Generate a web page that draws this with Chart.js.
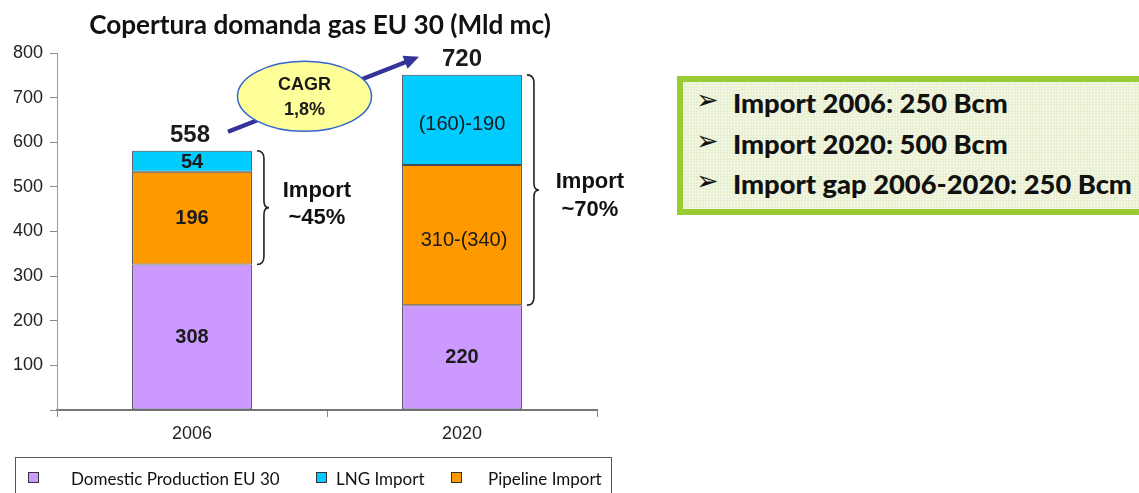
<!DOCTYPE html>
<html><head><meta charset="utf-8">
<script src="https://cdn.jsdelivr.net/npm/chart.js@4.4.1/dist/chart.umd.min.js"></script>
<style>
html,body{margin:0;padding:0;background:#fff;width:1139px;height:493px;overflow:hidden;position:relative;font-family:"Liberation Sans",Arial,sans-serif}
#wrap{position:absolute;left:0;top:0;width:640px;height:493px}
#title{position:absolute;left:0;width:640px;top:8px;text-align:center;font-family:Lato,"Open Sans",sans-serif;font-weight:bold;color:#111;white-space:nowrap}
#legend{position:absolute;left:15px;top:457px;width:597px;height:44px;border:1px solid #555;box-sizing:border-box;font-family:Lato,"Open Sans",sans-serif;font-size:17px;color:#111}
.li{position:absolute;top:10px;white-space:nowrap}
.sq{position:absolute;top:14px;width:9px;height:9px;border:1px solid #333}
#box{position:absolute;left:677px;top:76px;width:520px;height:139px;box-sizing:border-box;border:6px solid #99CC33;background:#E8EFCF;
background-image:linear-gradient(rgba(255,255,255,.35) 1px,transparent 1px),linear-gradient(90deg,rgba(255,255,255,.35) 1px,transparent 1px);background-size:3px 3px}
.bl{position:absolute;left:50px;font-family:Lato,"Open Sans",sans-serif;font-weight:900;color:#111;white-space:nowrap}
.ar{position:absolute;left:13px;font-size:27px;line-height:30px;color:#111;font-family:"DejaVu Sans",sans-serif}
</style></head><body>
<div id="wrap"><canvas id="c" width="640" height="493"></canvas></div>
<div id="title"></div>
<div id="legend"></div>
<div id="box"></div>
<script>
// ---- data ----
const categories = ['2006', '2020'];
const domesticValues = [326, 235];
const pipelineValues = [208, 314];
const lngValues = [47, 202];
const domesticLabels = ['308', '220'];
const pipelineLabels = ['196', '310-(340)'];
const lngLabels = ['54', '(160)-190'];
const totalLabels = ['558', '720'];
const importLabels = [['Import', '~45%'], ['Import', '~70%']];
const cagrLabel = ['CAGR', '1,8%'];
const yTicks = [0, 100, 200, 300, 400, 500, 600, 700, 800];
const seriesNames = ['Domestic Production EU 30', 'LNG Import', 'Pipeline Import'];
const chartTitle = 'Copertura domanda gas EU 30 (Mld mc)';
const boxLines = ['Import 2006: 250 Bcm', 'Import 2020: 500 Bcm', 'Import gap 2006-2020: 250 Bcm'];

const COL = {dom:'#CC99FF', pipe:'#FF9900', lng:'#00CCFF'};
const AR = '"Liberation Sans", Arial, sans-serif';

// ---- HTML texts ----
function fit(el, txt, family, weight, width){
  const cv=document.createElement('canvas').getContext('2d');
  cv.font = weight+' 100px '+family;
  const w=cv.measureText(txt).width;
  el.style.fontSize=(100*width/w).toFixed(2)+'px';
  el.textContent=txt;
}
fit(document.getElementById('title'), chartTitle, 'Lato', 'bold', 462);
const leg=document.getElementById('legend');
const legItems=[{c:COL.dom,sx:12,tx:55},{c:COL.lng,sx:300,tx:320},{c:COL.pipe,sx:435,tx:472}];
seriesNames.forEach((n,i)=>{
  const s=document.createElement('div');s.className='sq';s.style.left=legItems[i].sx+'px';s.style.background=legItems[i].c;leg.appendChild(s);
  const t=document.createElement('div');t.className='li';t.style.left=legItems[i].tx+'px';t.textContent=n;leg.appendChild(t);
});
const box=document.getElementById('box');
const lineTops=[4,45,85];
boxLines.forEach((l,i)=>{
  const a=document.createElement('div');a.className='ar';a.style.top=(lineTops[i]-1)+'px';a.textContent='➢';box.appendChild(a);
  const d=document.createElement('div');d.className='bl';d.style.top=lineTops[i]+'px';box.appendChild(d);
  fit(d,l,'Lato','900',[204,204,399][i]);
});
(function(){const ds=box.querySelectorAll('.bl');const fs=ds[2].style.fontSize;ds.forEach(d=>d.style.fontSize=fs);})();

// ---- annotation plugin ----
const annot = {
  id:'annot',
  afterDatasetsDraw(chart){
    const ctx=chart.ctx, x=chart.scales.x, y=chart.scales.y;
    ctx.save();
    const meta0=chart.getDatasetMeta(0);
    ctx.textAlign='center'; ctx.textBaseline='middle'; ctx.fillStyle='#1a1a1a';
    categories.forEach((c,i)=>{
      const cx=x.getPixelForValue(i);
      const d0=domesticValues[i], d1=d0+pipelineValues[i], d2=d1+lngValues[i];
      const yb=y.getPixelForValue(0), y0=y.getPixelForValue(d0), y1=y.getPixelForValue(d1), y2=y.getPixelForValue(d2);
      const w=meta0.data[i].width;
      ctx.font='bold 20px '+AR; ctx.fillText(domesticLabels[i], cx, (yb+y0)/2);
      ctx.font=(i===0?'bold 20px ':'20px ')+AR; ctx.fillText(pipelineLabels[i], cx+(i===0?0:2), (y0+y1)/2+(i===0?0:5));
      ctx.fillText(lngLabels[i], cx, (y1+y2)/2+(i===0?1:5));
      ctx.font='bold 24px '+AR; ctx.fillText(totalLabels[i], cx+(i===0?-2:0), y2-15);
      // brace
      const bx=cx+w/2+5, top=y2, bot=y0, mid=(top+bot)/2, bw=7;
      ctx.strokeStyle='#222'; ctx.lineWidth=1.6; ctx.beginPath();
      ctx.moveTo(bx,top); ctx.quadraticCurveTo(bx+bw,top,bx+bw,top+8);
      ctx.lineTo(bx+bw,mid-7); ctx.quadraticCurveTo(bx+bw,mid,bx+bw+5,mid);
      ctx.quadraticCurveTo(bx+bw,mid,bx+bw,mid+7);
      ctx.lineTo(bx+bw,bot-8); ctx.quadraticCurveTo(bx+bw,bot,bx,bot);
      ctx.stroke();
      ctx.font='bold 22px '+AR; ctx.fillStyle='#111';
      const ix=cx+w/2+(i===0?65:68);
      const off=i===0?[-17,10]:[-8,20];
      ctx.fillText(importLabels[i][0], ix, mid+off[0]);
      ctx.fillText(importLabels[i][1], ix, mid+off[1]);
      ctx.fillStyle='#1a1a1a';
    });
    // CAGR arrow
    const ax0=x.getPixelForValue(0)+36, ay0=y.getPixelForValue(domesticValues[0]+pipelineValues[0]+lngValues[0])-19;
    const ax1=x.getPixelForValue(1)-43, ay1=y.getPixelForValue(domesticValues[1]+pipelineValues[1]+lngValues[1])-18;
    ctx.strokeStyle='#333399'; ctx.fillStyle='#333399'; ctx.lineWidth=4.5;
    const ang=Math.atan2(ay1-ay0,ax1-ax0);
    ctx.beginPath(); ctx.moveTo(ax0,ay0); ctx.lineTo(ax1-10*Math.cos(ang),ay1-10*Math.sin(ang)); ctx.stroke();
    ctx.beginPath(); ctx.moveTo(ax1,ay1);
    ctx.lineTo(ax1-15*Math.cos(ang)+7*Math.sin(ang), ay1-15*Math.sin(ang)-7*Math.cos(ang));
    ctx.lineTo(ax1-15*Math.cos(ang)-7*Math.sin(ang), ay1-15*Math.sin(ang)+7*Math.cos(ang));
    ctx.closePath(); ctx.fill();
    const ex=(ax0+ax1)/2-19, ey=(ay0+ay1)/2+2;
    ctx.beginPath(); ctx.ellipse(ex,ey,67,35,0,0,Math.PI*2);
    ctx.fillStyle='#FFFF99'; ctx.fill(); ctx.strokeStyle='#3366CC'; ctx.lineWidth=1.5; ctx.stroke();
    ctx.fillStyle='#1a1a1a'; ctx.font='bold 18px '+AR;
    ctx.fillText(cagrLabel[0], ex, ey-11); ctx.fillText(cagrLabel[1], ex, ey+14);
    ctx.restore();
  }
};

new Chart(document.getElementById('c'), {
  type:'bar',
  data:{
    labels:categories,
    datasets:[
      {label:seriesNames[0], data:domesticValues, backgroundColor:COL.dom},
      {label:seriesNames[2], data:pipelineValues, backgroundColor:COL.pipe},
      {label:seriesNames[1], data:lngValues, backgroundColor:COL.lng}
    ].map(d=>Object.assign(d,{borderColor:'#4a4a5a',borderWidth:1,borderSkipped:false,barPercentage:0.444,categoryPercentage:1}))
  },
  options:{
    responsive:false, animation:false,
    layout:{padding:{left:0,right:43,top:53,bottom:0}},
    plugins:{legend:{display:false},tooltip:{enabled:false},title:{display:false}},
    scales:{
      x:{stacked:true, offset:true,
        grid:{offset:true,drawOnChartArea:false,tickLength:7,color:'#888'},
        border:{color:'#777',width:2},
        ticks:{color:'#222',font:{family:'Liberation Sans',size:18},padding:6},
        afterFit(s){s.height=83;}
      },
      y:{stacked:true, min:0, max:800,
        afterBuildTicks(s){s.ticks=yTicks.map(v=>({value:v}));},
        grid:{drawOnChartArea:false,tickLength:7,color:'#888'},
        border:{color:'#999',width:1},
        ticks:{color:'#222',font:{family:'Liberation Sans',size:18},padding:7,callback:v=>v===0?'':String(v)},
        afterFit(s){s.width=57;}
      }
    }
  },
  plugins:[annot]
});
</script>
</body></html>
